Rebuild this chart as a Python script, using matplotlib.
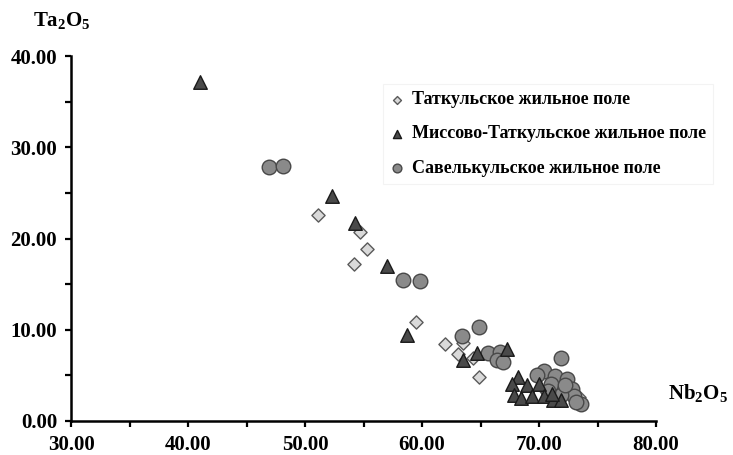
import matplotlib
matplotlib.use("Agg")
import matplotlib.pyplot as plt
from matplotlib.ticker import MultipleLocator, FormatStrFormatter

plt.rcParams['font.family'] = ['Liberation Serif', 'DejaVu Serif']
plt.rcParams['font.weight'] = 'bold'
plt.rcParams['mathtext.fontset'] = 'custom'
plt.rcParams['mathtext.rm'] = 'Liberation Serif:bold'
plt.rcParams['mathtext.bf'] = 'Liberation Serif:bold'

# Таткульское жильное поле (diamonds)
tat_x = [51.1, 54.7, 55.3, 54.2, 59.5, 62.0, 63.5, 63.1, 64.4, 64.9, 72.0, 73.4, 70.6]
tat_y = [22.6, 20.7, 18.8, 17.2, 10.8, 8.4, 8.5, 7.3, 6.9, 4.85, 3.9, 2.6, 3.3]

# Миссово-Таткульское жильное поле (triangles)
mis_x = [41.0, 52.3, 54.3, 57.0, 58.7, 63.5, 64.7, 67.3, 68.2, 67.7, 69.0, 70.0,
         67.9, 68.5, 69.4, 70.4, 71.2, 71.9, 71.1]
mis_y = [37.2, 24.7, 21.7, 17.0, 9.4, 6.7, 7.5, 7.9, 4.8, 4.1, 3.95, 4.1,
         2.85, 2.5, 2.7, 2.7, 2.3, 2.3, 3.0]

# Савелькульское жильное поле (circles)
sav_x = [46.95, 48.1, 58.4, 59.8, 63.4, 64.9, 65.6, 66.7, 66.4, 66.9, 71.9, 70.4,
         69.8, 71.4, 72.4, 71.0, 72.8, 73.0, 73.6, 71.9, 73.2, 70.8, 72.2]
sav_y = [27.8, 27.9, 15.45, 15.3, 9.3, 10.33, 7.4, 7.6, 6.7, 6.5, 6.9, 5.5,
         5.0, 4.9, 4.6, 4.1, 3.5, 2.7, 1.9, 2.85, 2.1, 3.3, 4.0]

labels = ["Таткульское жильное поле",
          "Миссово-Таткульское жильное поле",
          "Савелькульское жильное поле"]

fig = plt.figure(figsize=(7.33, 4.55), dpi=100)
ax = fig.add_axes([71/733, 1-421/455, (656-71)/733, (421-56)/455])

h_tat = ax.scatter(tat_x, tat_y, marker='D', s=45, facecolor='#d9d9d9',
                   edgecolor='#5a5a5a', linewidth=1.0, clip_on=False, zorder=3)
h_sav = ax.scatter(sav_x, sav_y, marker='o', s=110, facecolor='#8a8a8a',
                   edgecolor='#484848', linewidth=1.0, clip_on=False, zorder=4)
h_mis = ax.scatter(mis_x, mis_y, marker='^', s=95, facecolor='#4a4a4a',
                   edgecolor='#1a1a1a', linewidth=1.0, clip_on=False, zorder=5)

ax.set_xlim(30, 80)
ax.set_ylim(0, 40)
ax.xaxis.set_major_locator(MultipleLocator(10))
ax.xaxis.set_minor_locator(MultipleLocator(5))
ax.yaxis.set_major_locator(MultipleLocator(10))
ax.yaxis.set_minor_locator(MultipleLocator(5))
ax.xaxis.set_major_formatter(FormatStrFormatter('%.2f'))
ax.yaxis.set_major_formatter(FormatStrFormatter('%.2f'))
for s in ['top', 'right']:
    ax.spines[s].set_visible(False)
for s in ['left', 'bottom']:
    ax.spines[s].set_linewidth(1.8)
ax.tick_params(which='both', direction='out', length=4, width=1.6, labelsize=15)
ax.tick_params(axis='x', pad=6)
ax.tick_params(axis='y', pad=6)
for t in ax.get_xticklabels() + ax.get_yticklabels():
    t.set_fontweight('bold')

leg = ax.legend([h_tat, h_mis, h_sav], labels, loc='upper left',
                bbox_to_anchor=(374/733, 1-75/455), bbox_transform=fig.transFigure,
                prop={'size': 13, 'weight': 'bold'}, markerscale=0.6,
                handletextpad=0.4, labelspacing=0.95, handlelength=0.8,
                frameon=True, fancybox=False, borderpad=0.4)
leg.get_frame().set_edgecolor('#f0f0f0')
leg.get_frame().set_linewidth(0.8)

fig.text(62/733, 1-21/455, r'Ta$_\mathbf{2}$O$_\mathbf{5}$', ha='center', va='center',
         fontsize=15, fontweight='bold')
fig.text(698/733, 1-394/455, r'Nb$_\mathbf{2}$O$_\mathbf{5}$', ha='center', va='center',
         fontsize=15, fontweight='bold')

fig.savefig('out.png', dpi=100)
